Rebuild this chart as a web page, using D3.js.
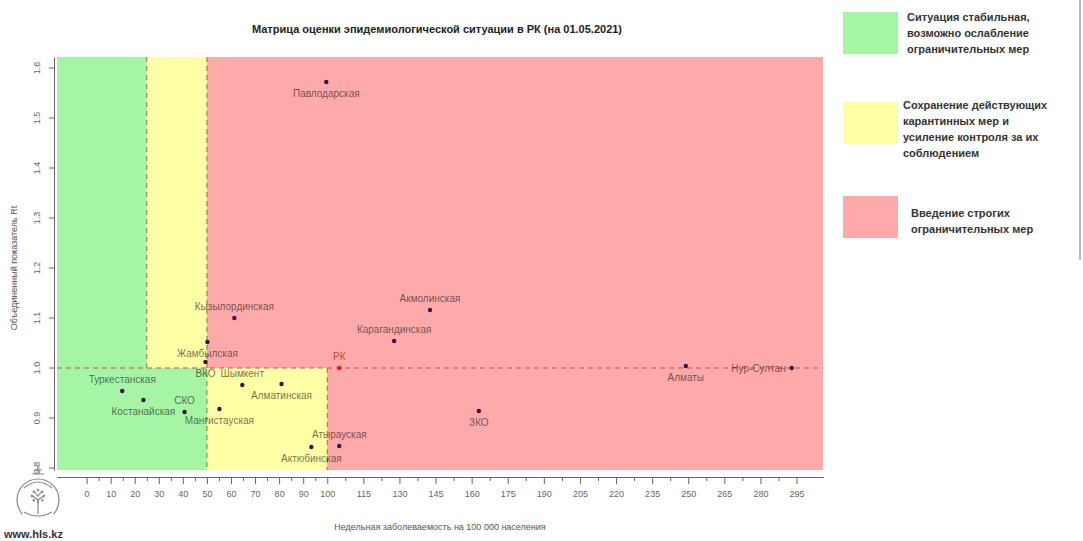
<!DOCTYPE html>
<html>
<head>
<meta charset="utf-8">
<script src="https://cdn.jsdelivr.net/npm/d3@7"></script>
<style>
  body { margin: 0; background: #fff; }
  svg text { font-family: "Liberation Sans", Arial, sans-serif; }
</style>
</head>
<body>
<svg id="chart" width="1083" height="541"></svg>
<script>
// data
const regions = ['Павлодарская', 'Акмолинская', 'Карагандинская', 'Кызылординская', 'Жамбылская',
    'ВКО', 'РК', 'Шымкент', 'Алматинская', 'СКО', 'Костанайская', 'Туркестанская',
    'Мангистауская', 'Атырауская', 'Актюбинская', 'ЗКО', 'Алматы', 'Нур-Султан']
const incidence = [99.6, 142.7, 127.8, 61.4, 50.2, 49.4, 105, 64.7, 81, 40.7, 23.6, 14.8,
    55.2, 105, 93.4, 163, 249, 293]
const rt = [1.572, 1.116, 1.054, 1.10, 1.052, 1.012, 1.0, 0.966, 0.968, 0.912, 0.936, 0.954,
    0.918, 0.844, 0.842, 0.914, 1.004, 1.0]
const labelSide = ['b', 't', 't', 't', 'b', 'b', 't', 't', 'b', 't', 'b', 't', 'b', 't', 'b', 'b', 'b', 'l']

const xTicks = [0, 10, 20, 30, 40, 50, 60, 70, 80, 90, 100, 115, 130, 145, 160, 175, 190, 205,
    220, 235, 250, 265, 280, 295]
const yTicks = [0.8, 0.9, 1.0, 1.1, 1.2, 1.3, 1.4, 1.5, 1.6]

// zones: [x0, x1, y0, y1, colour]
const zones = [
    [-12.3, 25, 1.0, 1.622, '#a6f5a6'],
    [25, 50, 1.0, 1.622, '#ffffa6'],
    [50, 306, 1.0, 1.622, '#ffaaaa'],
    [-12.3, 50, 0.796, 1.0, '#a6f5a6'],
    [50, 100, 0.796, 1.0, '#ffffa6'],
    [100, 306, 0.796, 1.0, '#ffaaaa']
]

const legendItems = [
    { colour: '#a6f5a6', lines: ['Ситуация стабильная,', 'возможно ослабление', 'ограничительных мер'] },
    { colour: '#ffffa6', lines: ['Сохранение действующих', 'карантинных мер и', 'усиление контроля за их', 'соблюдением'] },
    { colour: '#ffaaaa', lines: ['Введение строгих', 'ограничительных мер'] }
]

const svg = d3.select('#chart')

const xScale = d3.scaleLinear().domain([-12.3, 306]).range([57, 823])
const yScale = d3.scaleLinear().domain([0.796, 1.622]).range([470, 57])

// background zones
svg.selectAll('.zone')
    .data(zones)
    .join('rect')
    .attr('x', d => xScale(d[0]))
    .attr('y', d => yScale(d[3]))
    .attr('width', d => xScale(d[1]) - xScale(d[0]))
    .attr('height', d => yScale(d[2]) - yScale(d[3]))
    .attr('fill', d => d[4])

// threshold lines
const dash = '5,4'
svg.append('line')
    .attr('x1', xScale(25)).attr('x2', xScale(25))
    .attr('y1', yScale(1.622)).attr('y2', yScale(1.0))
    .attr('stroke', '#8a7040').attr('stroke-dasharray', dash)
svg.append('line')
    .attr('x1', xScale(50)).attr('x2', xScale(50))
    .attr('y1', yScale(1.622)).attr('y2', yScale(0.796))
    .attr('stroke', '#8a7040').attr('stroke-dasharray', dash)
svg.append('line')
    .attr('x1', xScale(100)).attr('x2', xScale(100))
    .attr('y1', yScale(1.0)).attr('y2', yScale(0.796))
    .attr('stroke', '#8a7040').attr('stroke-dasharray', dash)
svg.append('line')
    .attr('x1', xScale(-12.3)).attr('x2', xScale(306))
    .attr('y1', yScale(1.0)).attr('y2', yScale(1.0))
    .attr('stroke', '#d84848').attr('stroke-dasharray', dash)

// axes
const xAxis = svg.append('g')
    .attr('transform', 'translate(0, 477)')
    .call(d3.axisBottom(xScale).tickValues(xTicks).tickSize(7).tickSizeOuter(0).tickFormat(d3.format('d')))
xAxis.append('g')
    .call(d3.axisBottom(xScale)
        .tickValues(d3.range(0, 100, 10).map(v => v + 5).concat(d3.range(100, 295, 15).map(v => v + 7.5)))
        .tickSize(4).tickSizeOuter(0).tickFormat(''))
xAxis.selectAll('.domain').attr('stroke', '#666')
xAxis.selectAll('line').attr('stroke', '#666')
xAxis.selectAll('text').attr('fill', '#666').attr('font-size', 9).attr('dy', '1.1em')

const yAxis = svg.append('g')
    .attr('transform', 'translate(54, 0)')
    .call(d3.axisLeft(yScale).tickValues(yTicks).tickSize(5).tickSizeOuter(0).tickFormat(d3.format('.1f')))
yAxis.selectAll('.domain').attr('stroke', '#666')
yAxis.selectAll('line').attr('stroke', '#666')
yAxis.selectAll('text')
    .attr('fill', '#666').attr('font-size', 9)
    .attr('text-anchor', 'middle')
    .attr('transform', d => `translate(-17, ${yScale(d)}) rotate(-90)`)
    .attr('x', 0).attr('dy', '0.35em')
yAxis.selectAll('.tick').attr('transform', null)
yAxis.selectAll('.tick line').attr('y1', d => yScale(d)).attr('y2', d => yScale(d))

// axis titles
svg.append('text')
    .attr('x', 440).attr('y', 530)
    .attr('text-anchor', 'middle').attr('font-size', 9).attr('fill', '#555')
    .text('Недельная заболеваемость на 100 000 населения')
svg.append('text')
    .attr('transform', 'translate(17, 268) rotate(-90)')
    .attr('text-anchor', 'middle').attr('font-size', 9).attr('fill', '#555')
    .text('Объединенный показатель Rt')

// title
svg.append('text')
    .attr('x', 437).attr('y', 33)
    .attr('text-anchor', 'middle').attr('font-size', 11).attr('font-weight', 'bold').attr('fill', '#222')
    .text('Матрица оценки эпидемиологической ситуации в РК (на 01.05.2021)')

// points
const points = regions.map((r, i) => ({ name: r, x: incidence[i], y: rt[i], side: labelSide[i] }))

svg.selectAll('.pt')
    .data(points)
    .join('circle')
    .attr('cx', d => xScale(d.x))
    .attr('cy', d => yScale(d.y))
    .attr('r', 2.2)
    .attr('fill', d => d.name === 'РК' ? '#e01818' : '#3a1048')

svg.selectAll('.lbl')
    .data(points)
    .join('text')
    .attr('x', d => xScale(d.x) + (d.side === 'l' ? -6 : 0))
    .attr('y', d => yScale(d.y) + (d.side === 't' ? -8 : d.side === 'b' ? 15 : 4))
    .attr('text-anchor', d => d.side === 'l' ? 'end' : 'middle')
    .attr('font-size', 10)
    .attr('fill', d => d.name === 'РК' ? '#d03030' : '#0a0a0a')
    .attr('fill-opacity', d => d.name === 'РК' ? 0.9 : 0.6)
    .text(d => d.name)

// legend
const legendTops = [12, 102, 196]
const legendTextTops = [17, 105, 213]
const legendTextX = [907, 903, 911]
legendItems.forEach((item, i) => {
    svg.append('rect')
        .attr('x', 843).attr('y', legendTops[i])
        .attr('width', 55).attr('height', 42)
        .attr('fill', item.colour)
    svg.append('text')
        .attr('x', legendTextX[i]).attr('y', legendTextTops[i])
        .attr('font-family', '"Open Sans", sans-serif')
        .attr('font-size', 11).attr('font-weight', 'bold').attr('fill', '#333')
        .selectAll('tspan')
        .data(item.lines)
        .join('tspan')
        .attr('x', legendTextX[i])
        .attr('dy', (d, j) => j === 0 ? '0.35em' : 16)
        .text(d => d)
})
svg.append('line')
    .attr('x1', 1080).attr('x2', 1080).attr('y1', 0).attr('y2', 260)
    .attr('stroke', '#777')

// logo
const logo = svg.append('g').attr('transform', 'translate(38, 500)')
    .attr('fill', 'none').attr('stroke', '#888').attr('stroke-width', 1.2)
logo.append('path').attr('d', d3.arc()({ innerRadius: 21, outerRadius: 21, startAngle: -2.3, endAngle: 2.3 }))
logo.append('path').attr('d', 'M-14,-12 Q0,-24 14,-12')
logo.append('path').attr('d', 'M-6,-26 L6,-26 M-4,-30 L4,-30 M0,-34 L0,-26')
logo.append('path').attr('d', 'M0,14 L0,0 M-7,-5 L0,0 L7,-5 M-4,-9 L0,-4 L4,-9')
logo.selectAll('.dot')
    .data(d3.range(8))
    .join('circle')
    .attr('cx', i => Math.cos(i * Math.PI / 4) * 6)
    .attr('cy', i => Math.sin(i * Math.PI / 4) * 6 - 4)
    .attr('r', 1.2).attr('fill', '#888').attr('stroke', 'none')
logo.append('path').attr('d', 'M-14,12 Q0,20 14,12')
svg.append('text')
    .attr('x', 4).attr('y', 538)
    .attr('font-size', 11).attr('font-weight', 'bold').attr('fill', '#333')
    .text('www.hls.kz')
</script>
</body>
</html>
